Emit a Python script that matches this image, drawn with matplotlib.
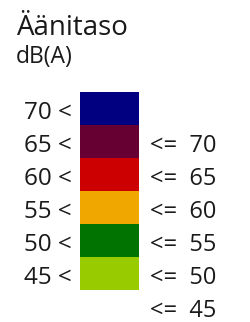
import matplotlib
matplotlib.use("Agg")
import matplotlib.pyplot as plt

title = "Äänitaso"
unit = "dB(A)"
lower = [70, 65, 60, 55, 50, 45]
upper = [None, 70, 65, 60, 55, 50]
last_upper = 45
colors = ["#000080", "#660033", "#CC0000", "#F0A800", "#007300", "#99CC00"]

W, H = 251, 322
fig = plt.figure(figsize=(W / 100, H / 100), dpi=100)
ax = fig.add_axes([0, 0, 1, 1])
row_px = 33.0
top_px = 92.0
ax.set_xlim(0, W)
ax.set_ylim((H - top_px) / row_px, -top_px / row_px)
ax.axis("off")

rows = list(range(len(lower)))
ax.barh([r + 0.5 for r in rows], [59] * len(rows), left=80, height=1.0,
        color=colors, edgecolor="none")

fam = ["Open Sans", "DejaVu Sans"]
tc = "#1a1a1a"
off = 0.15
for r, lo in zip(rows, lower):
    ax.text(72, r + 0.5 + off, f"{lo} <", ha="right", va="center",
            fontsize=17.5, family=fam, color=tc)
ups = upper[1:] + [last_upper]
for r, up in zip(rows, ups):
    ax.text(150, r + 1.5 + off, f"<=  {up}", ha="left", va="center",
            fontsize=17, family=fam, color=tc)

fig.text(16 / W, 1 - 35 / H, title, ha="left", va="baseline",
         fontsize=20, family=fam, color=tc)
fig.text(16 / W, 1 - 63 / H, unit, ha="left", va="baseline",
         fontsize=16.5, family=fam, color=tc)

fig.savefig("out.png", dpi=100)
